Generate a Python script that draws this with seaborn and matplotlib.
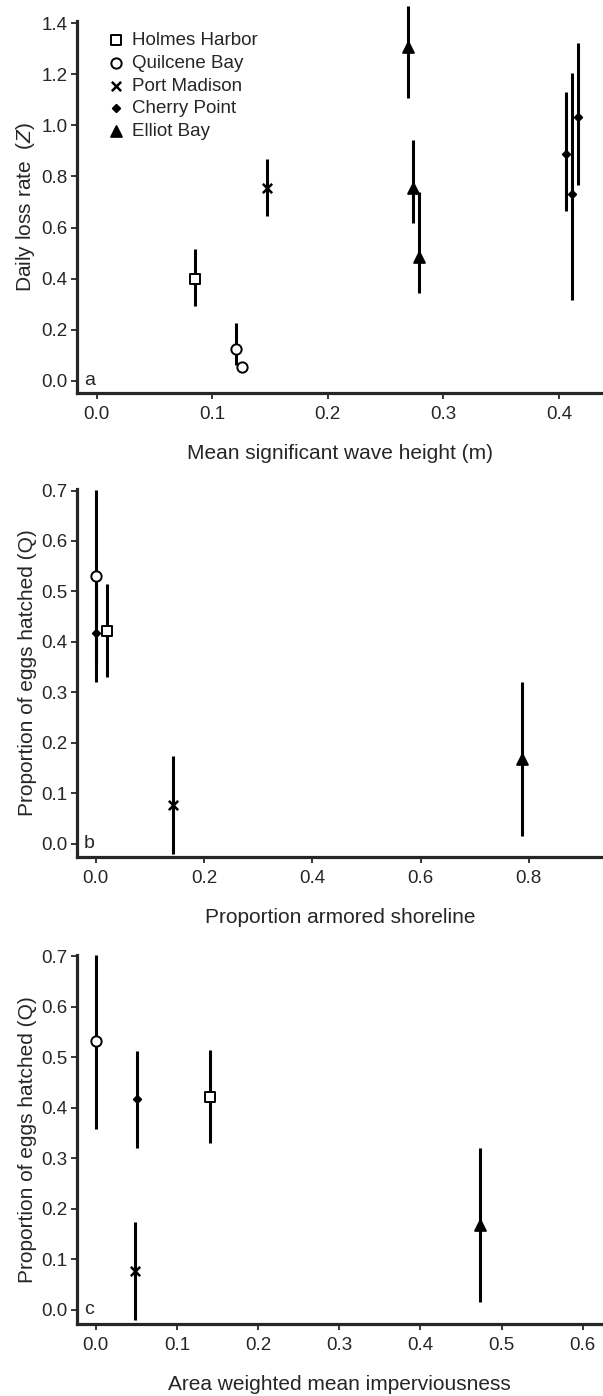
import numpy as np
import matplotlib
matplotlib.use("Agg")
import matplotlib.pyplot as plt
from matplotlib.ticker import FormatStrFormatter
import pandas as pd
import seaborn as sb

# sites in legend order
sites = ["Holmes Harbor", "Quilcene Bay", "Port Madison", "Cherry Point", "Elliot Bay"]

# panel a: daily loss rate vs wave height
wave_site = ["Holmes Harbor", "Quilcene Bay", "Quilcene Bay", "Port Madison",
             "Cherry Point", "Cherry Point", "Cherry Point",
             "Elliot Bay", "Elliot Bay", "Elliot Bay"]
wave_height = [0.085, 0.121, 0.126, 0.147, 0.406, 0.411, 0.416, 0.269, 0.274, 0.279]
loss_rate = [0.400, 0.124, 0.054, 0.754, 0.888, 0.730, 1.032, 1.308, 0.754, 0.486]
loss_lo = [0.294, 0.061, 0.054, 0.645, 0.666, 0.316, 0.767, 1.106, 0.617, 0.345]
loss_hi = [0.515, 0.227, 0.054, 0.867, 1.132, 1.206, 1.324, 1.468, 0.943, 0.740]

# panels b and c: proportion hatched
hatch_site = ["Holmes Harbor", "Quilcene Bay", "Port Madison", "Cherry Point", "Elliot Bay"]
armored = [0.021, 0.0, 0.142, 0.0, 0.787]
impervious = [0.141, 0.0, 0.048, 0.051, 0.474]
hatched = [0.422, 0.531, 0.077, 0.417, 0.168]
hatched_lo = [0.330, 0.357, -0.021, 0.320, 0.015]
hatched_hi = [0.515, 0.702, 0.174, 0.512, 0.321]

df_wave = pd.DataFrame({"site": wave_site, "x": wave_height, "y": loss_rate,
                        "lo": loss_lo, "hi": loss_hi})
df_arm = pd.DataFrame({"site": hatch_site, "x": armored, "y": hatched,
                       "lo": hatched_lo, "hi": hatched_hi})
df_imp = pd.DataFrame({"site": hatch_site, "x": impervious, "y": hatched,
                       "lo": hatched_lo, "hi": hatched_hi})

sb.set_style("ticks")
plt.rcParams['font.family'] = ['Liberation Sans', 'DejaVu Sans']
plt.rcParams['mathtext.fontset'] = 'custom'
plt.rcParams['mathtext.rm'] = 'Liberation Sans'
plt.rcParams['mathtext.it'] = 'Liberation Sans:italic'

# marker, face colour, size
marker_style = {
    "Holmes Harbor": ("s", "white", 45),
    "Quilcene Bay": ("o", "white", 55),
    "Port Madison": ("x", "black", 45),
    "Cherry Point": ("D", "black", 14),
    "Elliot Bay": ("^", "black", 60),
}


def draw_panel(ax, df):
    ax.vlines(df["x"], df["lo"], df["hi"], color="black", lw=2.2,
              clip_on=False, zorder=2)
    for site in sites:
        sub = df[df["site"] == site]
        if len(sub) == 0:
            continue
        m, face, size = marker_style[site]
        lw = 1.8 if m == "x" else 1.4
        sb.scatterplot(data=sub, x="x", y="y", marker=m, s=size, color=face,
                       edgecolor="black", linewidth=lw, ax=ax, label=site,
                       zorder=3, clip_on=False, legend=False)


def style_axes(ax, xlim, ylim, xticks, yticks, xlabel, ylabel, letter):
    ax.set_xlim(*xlim)
    ax.set_ylim(*ylim)
    ax.set_xticks(xticks)
    ax.set_yticks(yticks)
    ax.xaxis.set_major_formatter(FormatStrFormatter('%.1f'))
    ax.yaxis.set_major_formatter(FormatStrFormatter('%.1f'))
    sb.despine(ax=ax)
    for s in ["left", "bottom"]:
        ax.spines[s].set_linewidth(2.3)
    ax.tick_params(direction="out", length=4.5, width=1.1, labelsize=13.5,
                   pad=2, color="black")
    ax.tick_params(axis="x", pad=5)
    ax.set_xlabel(xlabel, fontsize=15, labelpad=15)
    ax.set_ylabel(ylabel, fontsize=15, labelpad=3)
    ax.text(0.014, 0.0, letter, transform=ax.get_yaxis_transform(),
            fontsize=14, ha="left", va="center")


fig = plt.figure(figsize=(6.03, 13.96), dpi=100)

ax1 = fig.add_axes([0.127, 0.7185, 0.873, 0.2667])
draw_panel(ax1, df_wave)
style_axes(ax1, (-0.0173, 0.438), (-0.048, 1.41),
           np.arange(0, 0.41, 0.1), np.arange(0, 1.41, 0.2),
           "Mean significant wave height (m)",
           r"Daily loss rate  ($\mathit{Z}$)", "a")
ax1.legend(loc="upper left", bbox_to_anchor=(0.04, 0.99), frameon=False,
           fontsize=13.5, handletextpad=0.25, labelspacing=0.3,
           borderaxespad=0, handlelength=1.2)

ax2 = fig.add_axes([0.127, 0.3863, 0.873, 0.2634])
draw_panel(ax2, df_arm)
style_axes(ax2, (-0.0356, 0.937), (-0.026, 0.703),
           np.arange(0, 0.81, 0.2), np.arange(0, 0.71, 0.1),
           "Proportion armored shoreline",
           "Proportion of eggs hatched (Q)", "b")

ax3 = fig.add_axes([0.127, 0.0516, 0.873, 0.2643])
draw_panel(ax3, df_imp)
style_axes(ax3, (-0.0237, 0.625), (-0.028, 0.702),
           np.arange(0, 0.61, 0.1), np.arange(0, 0.71, 0.1),
           "Area weighted mean imperviousness",
           "Proportion of eggs hatched (Q)", "c")

fig.savefig("out.png", dpi=100)
